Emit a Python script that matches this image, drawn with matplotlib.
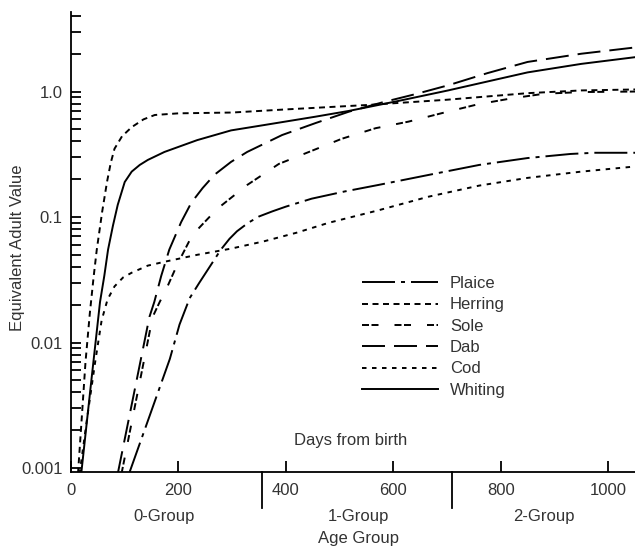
import matplotlib
matplotlib.use("Agg")
import matplotlib.pyplot as plt
import matplotlib.transforms as mtransforms
from matplotlib.ticker import FixedLocator, FixedFormatter, NullFormatter

plt.rcParams['font.family'] = ['Liberation Sans', 'DejaVu Sans']
plt.rcParams['lines.scale_dashes'] = False

# ---- data (days from birth, equivalent adult value) ----
plaice_days = [108, 147, 184, 202, 221, 239, 258, 279, 295, 309, 330, 350, 375, 400, 448, 510, 572, 674, 760, 850, 930, 974, 1060]
plaice_vals = [0.0009, 0.00265, 0.0074, 0.0139, 0.0226, 0.030, 0.040, 0.055, 0.067, 0.077, 0.09, 0.101, 0.111, 0.121, 0.14, 0.16, 0.18, 0.22, 0.26, 0.295, 0.318, 0.325, 0.325]

herring_days = [13, 20, 27, 35, 42, 48, 58, 67, 74, 81, 95, 113, 135, 156, 200, 300, 400, 550, 700, 850, 950, 1060]
herring_vals = [0.0009, 0.0025, 0.007, 0.017, 0.033, 0.055, 0.11, 0.19, 0.27, 0.35, 0.44, 0.52, 0.6, 0.65, 0.67, 0.68, 0.72, 0.78, 0.86, 0.97, 1.02, 1.04]

sole_days = [94, 152, 165, 178, 198, 226, 272, 328, 387, 443, 504, 567, 628, 689, 757, 819, 881, 950, 1060]
sole_vals = [0.0009, 0.016, 0.021, 0.027, 0.042, 0.072, 0.116, 0.18, 0.265, 0.33, 0.42, 0.51, 0.575, 0.67, 0.79, 0.88, 0.96, 0.99, 1.0]

dab_days = [87, 146, 155, 168, 183, 205, 224, 245, 267, 298, 328, 393, 455, 517, 580, 640, 702, 775, 850, 950, 1060]
dab_vals = [0.0009, 0.016, 0.021, 0.034, 0.055, 0.091, 0.13, 0.17, 0.217, 0.275, 0.33, 0.45, 0.56, 0.69, 0.82, 0.95, 1.12, 1.4, 1.72, 2.0, 2.27]

cod_days = [16, 30, 45, 57, 68, 81, 97, 113, 143, 174, 235, 298, 359, 420, 480, 572, 665, 760, 850, 950, 1060]
cod_vals = [0.0009, 0.0025, 0.007, 0.015, 0.022, 0.028, 0.033, 0.036, 0.041, 0.044, 0.05, 0.056, 0.064, 0.075, 0.09, 0.113, 0.145, 0.178, 0.205, 0.23, 0.255]

whiting_days = [19, 37, 54, 62, 69, 78, 87, 100, 113, 128, 143, 174, 235, 298, 359, 455, 517, 609, 702, 850, 950, 1060]
whiting_vals = [0.0009, 0.0046, 0.021, 0.034, 0.055, 0.085, 0.125, 0.19, 0.23, 0.26, 0.285, 0.33, 0.41, 0.49, 0.54, 0.63, 0.70, 0.84, 1.02, 1.42, 1.66, 1.9]

x_ticks = [0, 200, 400, 600, 800, 1000]
x_ticklabels = ["0", "200", "400", "600", "800", "1000"]
y_ticks = [0.001, 0.01, 0.1, 1.0]
y_ticklabels = ["0.001", "0.01", "0.1", "1.0"]
group_bounds = [355, 710]
group_labels = ["0-Group", "1-Group", "2-Group"]
group_centers = [173, 536, 880]

# ---- figure ----
W, H = 635, 546
fig = plt.figure(figsize=(W / 100, H / 100), dpi=100)
ax_bottom_px, ax_top_px = 472, 12
ax = fig.add_axes([71 / W, 1 - ax_bottom_px / H, (W - 71) / W, (ax_bottom_px - ax_top_px) / H])

FS = 12
TC = '#333333'
lw = 1.4
k = 0.72  # px -> pt
styles = {
    'Plaice': (0, (33 * k, 6 * k, 4 * k, 6 * k)),
    'Herring': (0, (6 * k, 4.5 * k)),
    'Sole': (0, (7 * k, 2.5 * k, 7 * k, 16 * k)),
    'Dab': (0, (23 * k, 9 * k)),
    'Cod': (0, (4.5 * k, 5.5 * k)),
    'Whiting': '-',
}
series = [
    ('Plaice', plaice_days, plaice_vals),
    ('Herring', herring_days, herring_vals),
    ('Sole', sole_days, sole_vals),
    ('Dab', dab_days, dab_vals),
    ('Cod', cod_days, cod_vals),
    ('Whiting', whiting_days, whiting_vals),
]
for name, d, v in series:
    ax.plot(d, v, color='black', lw=lw, linestyle=styles[name], label=name,
            dash_capstyle='butt')

ax.set_yscale('log')
ax.set_xlim(0, 1050)
ax.set_ylim(0.00093, 4.3)

for s in ['top', 'right']:
    ax.spines[s].set_visible(False)
for s in ['left', 'bottom']:
    ax.spines[s].set_linewidth(1.3)

ax.yaxis.set_major_locator(FixedLocator(y_ticks))
ax.yaxis.set_major_formatter(FixedFormatter(y_ticklabels))
ax.yaxis.set_minor_formatter(NullFormatter())
ax.tick_params(axis='y', which='both', direction='in', length=7.5, width=1.3,
               labelsize=FS, labelcolor=TC, pad=6)
ax.set_xticks(x_ticks)
ax.set_xticklabels(x_ticklabels)
ax.tick_params(axis='x', which='both', direction='in', length=8, width=1.3,
               labelsize=FS, labelcolor=TC, pad=8)

trans = mtransforms.blended_transform_factory(ax.transData, ax.transAxes)
axh = ax_bottom_px - ax_top_px
for b in group_bounds:
    ax.plot([b, b], [0, -(508 - ax_bottom_px) / axh], transform=trans, color='black', lw=1.3,
            clip_on=False)
for c, lab in zip(group_centers, group_labels):
    ax.text(c, -(517 - ax_bottom_px) / axh, lab, transform=trans, ha='center', va='center',
            fontsize=FS, color=TC)
ax.text(536, -(538 - ax_bottom_px) / axh, "Age Group", transform=trans, ha='center', va='center',
        fontsize=FS, color=TC)
ax.text(520, (ax_bottom_px - 440) / axh, "Days from birth", transform=trans, ha='center',
        va='center', fontsize=FS, color=TC)

fig.text(18 / W, 1 - 248 / H, "Equivalent Adult Value", rotation=90, ha='center', va='center',
         fontsize=FS, color=TC)

leg = ax.legend(loc='upper left', bbox_to_anchor=(362 / W, 1 - 276 / H),
                bbox_transform=fig.transFigure, frameon=False, fontsize=FS,
                handlelength=4.55, handletextpad=0.72, labelspacing=0.38,
                borderpad=0, borderaxespad=0)
for t in leg.get_texts():
    t.set_color(TC)

fig.savefig("out.png", dpi=100)
